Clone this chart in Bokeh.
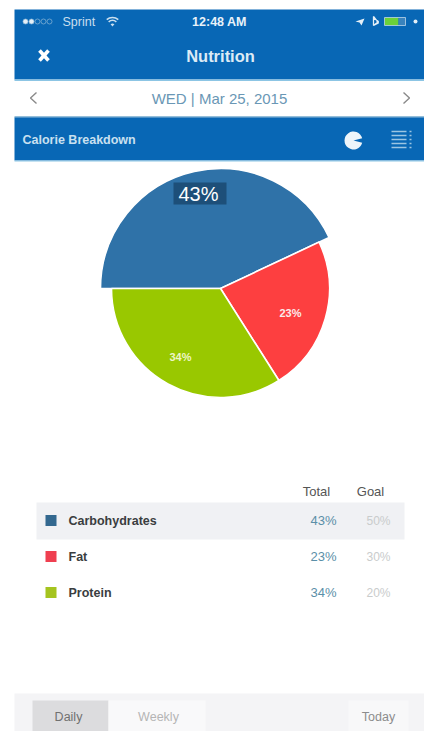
from bokeh.core.properties import value
from bokeh.embed import file_html
from bokeh.models import ColumnDataSource, Range1d
from bokeh.plotting import figure
from bokeh.resources import INLINE
import math

W, H = 424, 731

# Nutrition figures
categories = ["Carbohydrates", "Fat", "Protein"]
total_pct = [43, 23, 34]
goal_pct = [50, 30, 20]
slice_colors = ["#2f72a8", "#fd3f40", "#99c800"]
swatch_colors = ["#33688f", "#ef3f50", "#a5c41f"]
slice_radius = [120, 109, 109]

FONT = value("Liberation Sans")
BAR = "#0867b5"
EDGE = "#8cc5e4"


def Y(py):
    return H - py


p = figure(width=W, height=H, output_backend="svg", toolbar_location=None,
           x_range=Range1d(0, W), y_range=Range1d(0, H), min_border=0,
           background_fill_color="white", border_fill_color="white",
           outline_line_color=None)
p.axis.visible = False
p.grid.visible = False


def box(x0, y0, x1, y1, color, alpha=1.0):
    p.quad(left=[x0], right=[x1], top=[Y(y0)], bottom=[Y(y1)],
           fill_color=color, fill_alpha=alpha, line_color=None)


def label(x, y, s, size, color, align="left", style="normal"):
    p.text(x=[x], y=[Y(y)], text=[s], text_font=FONT, text_font_size=f"{size}px",
           text_color=color, text_align=align, text_baseline="middle",
           text_font_style=style)


def stroke(xs, ys, color, width=1.5):
    p.line(xs, [Y(v) for v in ys], line_color=color, line_width=width)


# Phone header bands
box(14, 9, W, 79, BAR)
box(14, 79, W, 80.5, EDGE)
box(14, 116, W, 117, "#2a7fb5")
box(14, 117, W, 160, BAR)
box(14, 160, W, 161, EDGE)

# Status bar
for i in range(5):
    filled = i < 2
    p.scatter([25 + i * 6], [Y(21)], size=5, marker="circle",
              fill_color="#e4eff7" if filled else BAR,
              line_color="#8fb9d8", line_width=0.7)
label(62, 21, "Sprint", 12.5, "#c9dfef")
for r, w in ((9, 1.6), (6, 1.6)):
    p.arc([112], [Y(26)], radius=r, start_angle=math.radians(50),
          end_angle=math.radians(130), line_color="#c9dfef", line_width=w)
p.wedge([112], [Y(26)], radius=3, start_angle=math.radians(50),
        end_angle=math.radians(130), fill_color="#c9dfef", line_color=None)
label(219, 21, "12:48 AM", 12.5, "#e8f2f9", "center", "bold")
p.patch([355, 364, 361, 359], [Y(21), Y(18), Y(25), Y(22)],
        fill_color="#e4eff7", line_color=None)
stroke([373, 378, 373, 373, 378, 373], [17.5, 21, 25, 16, 22.5, 25], "#e4eff7", 1.3)
box(384, 17, 398, 25, "#6cd13a")
box(398, 17, 405, 25, "#3a83bd")
p.quad(left=[384], right=[405], top=[Y(17)], bottom=[Y(25)],
       fill_color=None, line_color="#bcd6ea", line_width=0.8)
p.scatter([415], [Y(21)], size=4, marker="circle", fill_color="#e4eff7", line_color=None)

# Title row
stroke([39, 48], [50, 60], "white", 3.6)
stroke([48, 39], [50, 60], "white", 3.6)
label(220, 55, "Nutrition", 16.5, "#dcebf6", "center", "bold")

# Date row
stroke([36, 30, 36], [92, 97.5, 103], "#8a8a8a", 1.4)
stroke([403, 409, 403], [92, 97.5, 103], "#8a8a8a", 1.4)
label(219, 98, "WED | Mar 25, 2015", 15, "#6a97b5", "center")

# Section strip
label(22, 139, "Calorie Breakdown", 12.5, "#c9e0f0", "left", "bold")
p.wedge([353], [Y(140)], radius=9, start_angle=math.radians(15),
        end_angle=math.radians(345), fill_color="#eef5fa", line_color=None)
for yy in (131, 135, 139, 143, 147):
    stroke([391, 406], [yy, yy], "#9cc5e2", 1.3)
    stroke([409, 411], [yy, yy], "#9cc5e2", 1.3)

# Pie, clockwise from the left edge
cx, cy = 220, 288
angles_end = []
angles_start = []
cursor = 180.0
for share in total_pct:
    angles_end.append(math.radians(cursor))
    cursor -= share * 3.6
    angles_start.append(math.radians(cursor))
pie = ColumnDataSource(dict(x=[cx] * 3, y=[Y(cy)] * 3, r=slice_radius,
                            start=angles_start, end=angles_end, color=slice_colors))
p.wedge(x="x", y="y", radius="r", start_angle="start", end_angle="end",
        fill_color="color", line_color="white", line_width=1.6, source=pie)

box(173, 182, 226, 204, "#1d4f79")
label(198, 193, f"{total_pct[0]}%", 20, "white", "center")
label(290, 312, f"{total_pct[1]}%", 11, "#fbeaea", "center", "bold")
label(180, 356, f"{total_pct[2]}%", 11, "#eef6c8", "center", "bold")

# Table
label(316, 491, "Total", 13, "#555555", "center")
label(370, 491, "Goal", 13, "#555555", "center")
box(36, 502, 404, 539, "#f0f1f4")
row_y = [520, 556, 592]
for name, tot, goal, col, ry in zip(categories, total_pct, goal_pct, swatch_colors, row_y):
    box(45, ry - 5.5, 56, ry + 5.5, col)
    label(68, ry, name, 12.5, "#3a3d40", "left", "bold")
    label(323, ry, f"{tot}%", 13, "#5b8fa8", "center")
    label(378, ry, f"{goal}%", 12, "#c9cccc", "center")

# Bottom bar
box(14, 693, W, H, "#f4f4f6")
box(32, 700, 108, H, "#dcdcde")
box(108, 700, 205, H, "#f9f9fa")
box(348, 700, 408, H, "#f8f8f9")
label(68, 716, "Daily", 12.5, "#707070", "center")
label(158, 716, "Weekly", 12.5, "#b5b5b5", "center")
label(378, 716, "Today", 12.5, "#8c8c8c", "center")

open("out.html", "w").write(file_html(p, INLINE))
